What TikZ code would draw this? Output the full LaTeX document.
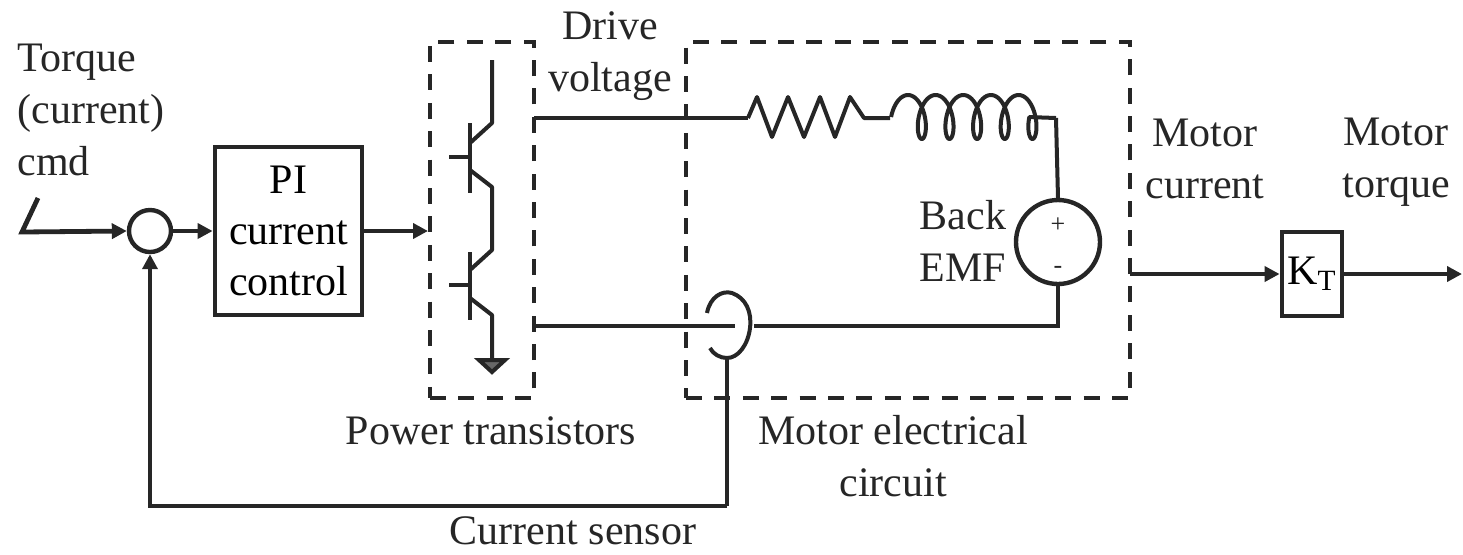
\documentclass[tikz,border=0pt]{standalone}
\usepackage{fontspec}
\setmainfont{Liberation Serif}
\usetikzlibrary{arrows.meta}
\definecolor{ink}{gray}{0.15}
\tikzset{
  wire/.style={draw=ink,line width=2.4pt,line join=miter},
  thin wire/.style={draw=ink,line width=2pt,line join=round},
  flow/.style={wire,-{Triangle[length=7.5pt,width=7.5pt]}},
  dashbox/.style={draw=ink,line width=2.2pt,dash pattern=on 8pt off 6.2pt,minimum width=0pt,inner sep=0pt},
  blockbox/.style={draw=ink,line width=2.4pt,fill=white,inner sep=0pt,align=center,font=\fontsize{21}{25.5}\selectfont},
  lbl/.style={align=center,text=ink,inner sep=0pt,font=\fontsize{21}{26}\selectfont},
  sumcirc/.style={circle,draw=ink,line width=2.2pt,inner sep=0pt},
}
\begin{document}
\begin{tikzpicture}[x=0.5pt,y=-0.5pt]
\useasboundingbox (0,0) rectangle (1463,554);
% boxes
\node[dashbox,minimum width=52pt,minimum height=178pt] (ptbox) at (482,220) {};
\node[dashbox,minimum width=222pt,minimum height=178pt] (mcbox) at (908,220) {};
\node[blockbox,minimum width=73.5pt,minimum height=84pt] (pi) at (288.5,231) {PI\\current\\control};
\node[blockbox,minimum width=30pt,minimum height=42pt] (kt) at (1312,274) {K\textsubscript{T}};
\node[sumcirc,minimum size=21pt] (sum) at (150,231) {};
\node[sumcirc,minimum size=42pt] (emf) at (1058,242) {};
\node[lbl,inner sep=0pt] (plus) at (1058,225) {\fontsize{13}{13}\selectfont +};
\node[lbl,inner sep=0pt] (minus) at (1058,270) {\fontsize{13}{13}\selectfont -};
% coordinates
\coordinate (cmdtop) at (38,198);
\coordinate (cmdkink) at (22,232);
\coordinate (ptin) at (428,231);
\coordinate (topL) at (534,118);
\coordinate (rstart) at (748,118);
\coordinate (lowL) at (534,326);
\coordinate (sensL) at (735,326);
\coordinate (sensR) at (754,326);
\coordinate (corner) at (1058,326);
\coordinate (lcorner) at (1056,118);
\coordinate (sensB) at (727,358);
\coordinate (fbcornerR) at (727,506);
\coordinate (fbcornerL) at (150,506);
\coordinate (mout) at (1130,274);
\coordinate (tout) at (1462,274);
% input and forward path
\draw[flow] (cmdtop) -- (cmdkink) -- (sum.west);
\draw[flow] (sum.east) -- (pi.west);
\draw[flow] (pi.east) -- (ptin);
\draw[flow] (fbcornerR) -- (fbcornerL) -- (sum.south);
\draw[wire] (sensB) -- (fbcornerR);
% transistors
\draw[thin wire] (492,60) -- (492,123) -- (470,143);
\draw[wire] (470,123) -- (470,193);
\draw[wire] (449,157) -- (470,157);
\draw[thin wire] (470,170) -- (492,187) -- (492,250) -- (470,270);
\draw[wire] (470,252) -- (470,320);
\draw[wire] (449,285) -- (470,285);
\draw[thin wire] (470,298) -- (492,315) -- (492,360);
\draw[draw=ink,line width=2pt,fill=ink!70] (479,360) -- (505,360) -- (492,372) -- cycle;
% upper wire, resistor, inductor
\draw[wire] (topL) -- (rstart);
\draw[thin wire] (rstart) -- (757,97) -- (772,137) -- (788,97) -- (804,137) -- (820,97) -- (835,137) -- (850,97) -- (864,118) -- (890,118);
\draw[thin wire] plot[domain=-1.5708:29.845,samples=240,smooth] ({908+4.4*\x+10*sin(\x r)},{117-22*cos(\x r)}) -- (lcorner);
\draw[thin wire] (lcorner) -- (emf.north);
% lower wire and sensor
\draw[wire] (lowL) -- (sensL);
\draw[wire] (sensR) -- (corner) -- (emf.south);
\draw[thin wire] (707,313) .. controls (710,297) and (722,290) .. (732,293) .. controls (746,298) and (752,312) .. (750,328) .. controls (748,345) and (738,358) .. (727,358) .. controls (720,358) and (713,354) .. (710,348);
% output
\draw[flow] (mout) -- (kt.west);
\draw[flow] (kt.east) -- (tout);
% labels
\node[lbl,align=left,anchor=north west] (l1) at (17,44) {Torque\\(current)\\cmd};
\node[lbl] (l2) at (610,56) {Drive\\voltage};
\node[lbl] (l3) at (491,431) {Power transistors};
\node[lbl] (l4) at (893,456) {Motor electrical\\circuit};
\node[lbl,anchor=base] (l5) at (573,544) {Current sensor};
\node[lbl,align=center] (l6) at (963,241) {Back\\EMF};
\node[lbl] (l7) at (1205,159) {Motor\\current};
\node[lbl] (l8) at (1396,162) {Motor\\torque};
\end{tikzpicture}
\end{document}
